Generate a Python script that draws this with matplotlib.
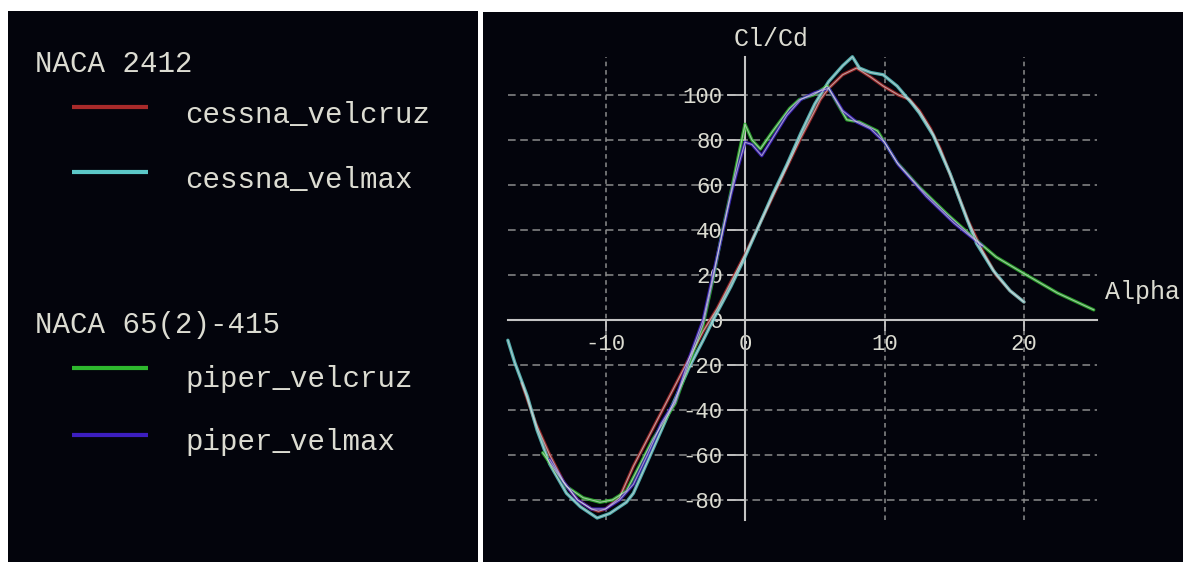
import numpy as np
import matplotlib
matplotlib.use("Agg")
import matplotlib.pyplot as plt

plt.rcParams['font.family'] = ['Liberation Mono', 'DejaVu Sans Mono']
plt.rcParams['axes.unicode_minus'] = False

# polar data: Cl/Cd against angle of attack
# -------------------------------------------------------------------------------------
cessna_velcruz_alpha = [-16, -15, -14, -13, -12, -11, -10.5, -10, -9, -8.5, -8, -7, -6, -5,
                        -4, -3, -2.4, -2, -1, 0, 1, 2, 3, 4, 5, 5.4, 6, 7, 8, 9, 9.9, 11,
                        11.8, 12.5, 13.3, 14, 15, 16, 17, 18, 19, 20]
cessna_velcruz_clcd = [-28, -46, -60, -72, -80, -84, -85, -84, -79, -72, -65, -53, -41, -29,
                       -17, -5, 1, 5, 17, 29, 42, 55, 68, 81, 93, 98, 103, 109, 112, 108, 104, 100,
                       98, 93, 85, 76, 60, 44, 31, 20, 13, 8]

cessna_velmax_alpha = [-17, -16.5, -15.6, -14.9, -14, -12.8, -11.8, -10.6, -9.7, -8.5, -8, -7,
                       -6, -5, -4, -3, -2.2, -1, 0, 1, 2, 3, 4, 5, 6, 7, 7.7, 8.2, 9, 9.9,
                       10.9, 12, 12.5, 13.5, 14.7, 15.9, 16.6, 17.8, 19, 20]
cessna_velmax_clcd = [-9, -19, -34, -49, -64, -77, -83, -88, -86, -81, -77, -63,
                      -49, -35, -21, -9, 1, 15, 28, 42, 56, 69, 83, 96, 106, 113, 117, 112, 110, 109,
                      104, 96, 92, 82, 65, 45, 34, 22, 13, 8]

piper_velcruz_alpha = [-14.5, -12.8, -11.6, -10.4, -9.5, -8.5, -7.5, -6.6, -5, -4, -3, -2.3,
                       -1.6, -0.9, 0, 0.5, 1.1, 2, 3.2, 3.9, 4.9, 5.9, 7.3, 8.2, 9.5, 10.2,
                       10.9, 12.5, 14.5, 16.3, 18, 19.9, 22.4, 25]
piper_velcruz_clcd = [-59, -74, -79, -81, -80, -76, -64, -53, -37, -19, -2, 18,
                      40, 60, 87, 80, 76, 84, 94, 98, 100, 104, 89, 88, 84, 77,
                      70, 59, 47, 37, 28, 21, 12, 4.5]

piper_velmax_alpha = [-14, -13, -12, -11, -10, -9, -8, -7, -6, -5, -4, -3, -2.5, -2, -1.5,
                      -1, -0.5, 0, 0.5, 1.2, 2, 3, 4, 5, 6, 7, 8, 9, 10, 11, 12, 13, 14,
                      15, 16, 17]
piper_velmax_clcd = [-62, -72, -80, -84, -84, -80, -73, -60, -46, -36, -17, 0, 14, 28, 42,
                     56, 68, 79, 78, 73, 81, 91, 98, 101, 103, 93, 88, 85, 79, 69, 62, 55, 49,
                     43, 38, 33]

series_names = ["cessna_velcruz", "cessna_velmax", "piper_velcruz", "piper_velmax"]
series_colors = ["#a82a2a", "#5cc8c8", "#2eb82e", "#3c1ec0"]
groups = ["NACA 2412", "NACA 65(2)-415"]

x_ticks = [-10, 0, 10, 20]
y_ticks = [-80, -60, -40, -20, 0, 20, 40, 60, 80, 100]
x_grid = [-10, 10, 20]
y_grid = [-80, -60, -40, -20, 20, 40, 60, 80, 100]

x_range = (-17, 25.2)
y_range = (-89, 117)


# figure layout (pixels)
# -------------------------------------------------------------------------------------
W, H = 1186, 562
panel_bg = "#03040c"
text_col = "#dcdcd2"
grid_col = "#8c8c8c"
axis_col = "#c4c4c4"

fig = plt.figure(figsize=(W / 100, H / 100), dpi=100)
fig.patch.set_facecolor("white")

# plot panel: origin at pixel (745, 320), 13.95 px per degree, 2.25 px per unit Cl/Cd
px0, py0, sx, sy = 745, 320, 13.95, 2.25
left, right, top, bottom = 483, 1183, 12, 562
ax = fig.add_axes([left / W, (H - bottom) / H, (right - left) / W, (bottom - top) / H])
ax.set_facecolor(panel_bg)
ax.set_xlim((left - px0) / sx, (right - px0) / sx)
ax.set_ylim((py0 - bottom) / sy, (py0 - top) / sy)

ax.hlines(y_grid, *x_range, colors=grid_col, linestyles=(0, (5, 3)), linewidth=1.1, zorder=1)
ax.vlines(x_grid, *y_range, colors=grid_col, linestyles=(0, (3, 2.5)), linewidth=1.1, zorder=1)

for s in ["top", "right"]:
    ax.spines[s].set_visible(False)
ax.spines["left"].set_position(("data", 0))
ax.spines["bottom"].set_position(("data", 0))
ax.spines["left"].set_bounds(*y_range)
ax.spines["bottom"].set_bounds(*x_range)
for s in ["left", "bottom"]:
    ax.spines[s].set_color(axis_col)
    ax.spines[s].set_linewidth(1.5)
    ax.spines[s].set_zorder(2)

ax.set_xticks(x_ticks)
ax.set_yticks(y_ticks)
ax.tick_params(axis="x", colors=axis_col, labelcolor=text_col, labelsize=16,
               length=8, width=1.3, pad=2)
ax.tick_params(axis="y", colors=axis_col, labelcolor=text_col, labelsize=16,
               length=13, width=1.3, pad=3)

curves = [
    (cessna_velcruz_alpha, cessna_velcruz_clcd),
    (cessna_velmax_alpha, cessna_velmax_clcd),
    (piper_velcruz_alpha, piper_velcruz_clcd),
    (piper_velmax_alpha, piper_velmax_clcd),
]
for (a, c), col in zip(curves, series_colors):
    ax.plot(a, c, color=col, linewidth=2.4, alpha=0.85, zorder=3, solid_capstyle="round")
    ax.plot(a, c, color="#dcdcdc", linewidth=0.8, alpha=0.65, zorder=4)

ax.text(1.9, 125, "Cl/Cd", color=text_col, fontsize=18, ha="center", va="center")
ax.text(25.8, 12.4, "Alpha", color=text_col, fontsize=18, ha="left", va="center")


# legend panel
# -------------------------------------------------------------------------------------
lx0, lx1, ly0 = 8, 478, 11
lax = fig.add_axes([lx0 / W, 0, (lx1 - lx0) / W, (H - ly0) / H])
lax.set_facecolor(panel_bg)
lax.set_xlim(0, lx1 - lx0)
lax.set_ylim(H - ly0, 0)
lax.set_xticks([])
lax.set_yticks([])
for s in lax.spines.values():
    s.set_visible(False)

group_baselines = [61, 322]
line_y = [96, 161, 357, 424]
label_baselines = [112, 177, 376, 439]

for g, yb in zip(groups, group_baselines):
    lax.text(27, yb, g, color=text_col, fontsize=21, va="baseline", ha="left")

for name, col, yl, yb in zip(series_names, series_colors, line_y, label_baselines):
    lax.plot([64, 140], [yl, yl], color=col, linewidth=3, solid_capstyle="butt")
    lax.text(177, yb, name, color=text_col, fontsize=21, va="baseline", ha="left")

fig.savefig("out.png", dpi=100, facecolor=fig.get_facecolor())
